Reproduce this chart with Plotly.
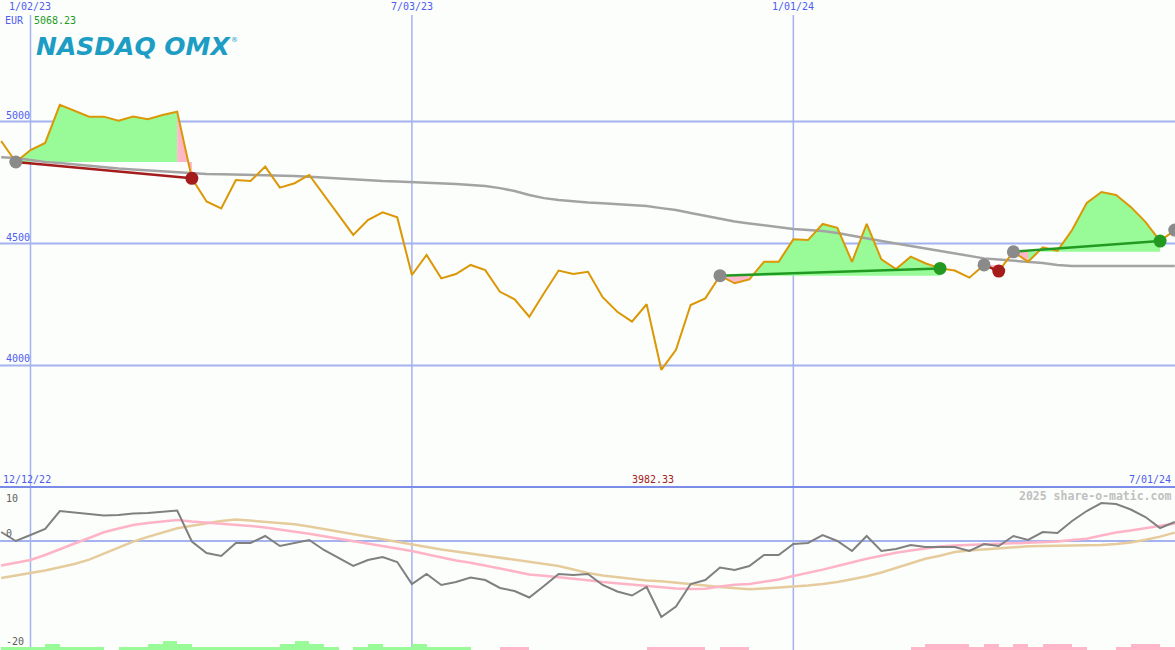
import plotly.graph_objects as go
import pandas as pd

# ---------------- data ----------------
first_week = "2022-12-19"
dates = pd.date_range(first_week, periods=81, freq="7D")

price = [4920, 4834, 4883, 4912, 5068.23, 5043, 5020, 5020, 5003, 5020,
         5009, 5027, 5040, 4767, 4672, 4644, 4760, 4756, 4815, 4729,
         4747, 4781, 4699, 4617, 4535, 4596, 4628, 4607, 4371, 4453,
         4357, 4375, 4412, 4391, 4302, 4271, 4200, 4296, 4389, 4375,
         4384, 4280, 4220, 4180, 4251, 3982.33, 4064, 4248, 4275, 4368,
         4337, 4353, 4425, 4425, 4517, 4514, 4580, 4564, 4425, 4580,
         4435, 4395, 4446, 4419, 4398, 4389, 4360, 4412, 4387, 4466,
         4425, 4484, 4470, 4555, 4666, 4711, 4699, 4650, 4589, 4510,
         4555]

ma_long = [4854, 4850, 4842, 4834, 4830, 4824, 4818, 4813, 4807, 4803,
           4799, 4795, 4791, 4788, 4785, 4784, 4783, 4781, 4779, 4778,
           4777, 4774, 4770, 4766, 4762, 4760, 4756, 4754, 4752, 4750,
           4748, 4744, 4740, 4736, 4727, 4715, 4699, 4686, 4678, 4672,
           4668, 4665, 4662, 4658, 4654, 4645, 4637, 4625, 4613, 4600,
           4590, 4582, 4574, 4568, 4559, 4555, 4551, 4543, 4531, 4520,
           4510, 4500, 4490, 4477, 4467, 4457, 4447, 4439, 4434, 4430,
           4425, 4420, 4412, 4408, 4408, 4408, 4408, 4408, 4408, 4408,
           4408]

osc = [1.8, 0.0, 1.2, 2.4, 6.0, 5.7, 5.3, 5.1, 5.2, 5.5,
       5.6, 5.8, 6.1, -0.1, -2.4, -3.0, -0.4, -0.4, 1.0, -1.0,
       -0.4, 0.2, -1.8, -3.4, -5.0, -3.8, -3.2, -4.2, -8.6, -6.6,
       -8.8, -8.2, -7.3, -7.8, -9.4, -10.0, -11.3, -9.0, -6.6, -6.8,
       -6.6, -8.8, -10.1, -10.9, -9.2, -15.2, -13.1, -8.6, -7.8, -5.3,
       -5.8, -5.0, -2.8, -2.8, -0.6, -0.4, 1.2, 0.0, -2.0, 1.0,
       -2.0, -1.6, -0.8, -1.2, -1.2, -1.2, -2.0, -0.6, -1.0, 1.0,
       0.2, 1.8, 1.6, 4.0, 6.0, 7.6, 7.4, 6.3, 4.8, 2.6,
       3.8]

osc_fast = [-4.9, -4.4, -3.8, -2.8, -1.6, -0.5, 0.6, 1.74, 2.5, 3.2,
            3.6, 3.9, 4.2, 3.9, 3.68, 3.52, 3.34, 3.02, 2.7, 2.3,
            1.9, 1.44, 0.94, 0.46, -0.04, -0.52, -1.0, -1.5, -2.0, -2.64,
            -3.28, -3.88, -4.36, -4.86, -5.48, -6.1, -6.7, -6.96, -7.22, -7.52,
            -7.84, -8.2, -8.48, -8.76, -9.06, -9.34, -9.52, -9.6, -9.56, -9.12,
            -8.76, -8.62, -8.16, -7.68, -7.0, -6.4, -5.72, -5.0, -4.24, -3.56,
            -2.96, -2.34, -1.9, -1.5, -1.12, -0.9, -0.8, -0.7, -0.62, -0.5,
            -0.38, -0.28, -0.12, 0.2, 0.46, 1.1, 1.7, 2.1, 2.54, 3.0,
            3.48]

osc_slow = [-7.4, -6.94, -6.46, -5.88, -5.24, -4.6, -3.72, -2.5, -1.3, -0.12,
            0.82, 1.74, 2.56, 3.04, 3.52, 4.0, 4.32, 4.08, 3.84, 3.6,
            3.34, 2.88, 2.36, 1.84, 1.32, 0.8, 0.28, -0.26, -0.78, -1.24,
            -1.68, -2.1, -2.52, -2.96, -3.4, -3.82, -4.18, -4.54, -5.0, -5.7,
            -6.4, -6.88, -7.24, -7.6, -7.88, -8.06, -8.3, -8.6, -8.9, -9.2,
            -9.48, -9.66, -9.48, -9.32, -9.16, -8.9, -8.6, -8.2, -7.64, -7.06,
            -6.3, -5.36, -4.44, -3.56, -2.94, -2.2, -1.88, -1.64, -1.44, -1.24,
            -1.06, -1.0, -0.96, -0.92, -0.86, -0.8, -0.6, -0.3, 0.24, 0.88,
            1.68]

# signed bar heights (positive = green, negative = pink)
signal_bars = [0.6, 0.6, 0.6, 1.2, 0.6, 0.6, 0.6, 0.0, 0.6, 0.6,
               1.2, 1.8, 1.2, 0.6, 0.6, 0.6, 0.6, 0.6, 0.6, 1.2,
               1.8, 1.2, 0.6, 0.0, 0.6, 1.2, 0.6, 0.6, 1.2, 0.6,
               0.6, 0.6, 0.0, 0.0, -0.6, -0.6, 0.0, 0.0, 0.0, 0.0,
               0.0, 0.0, 0.0, 0.0, -0.6, -0.6, -0.6, -0.6, 0.0, -0.6,
               -0.6, 0.0, 0.0, 0.0, 0.0, 0.0, 0.0, 0.0, 0.0, 0.0,
               0.0, 0.0, -0.6, -1.2, -1.2, -1.2, -0.6, -1.2, -0.6, -1.2,
               -0.6, -1.2, -1.2, -0.6, 0.0, 0.0, -0.6, -1.2, -1.2, -0.6,
               -0.6]

trade_entry = [1, 49, 67, 69, 80]
trade_exit = [13, 64, 68, 79, None]

grid_dates = ["2023-01-02", "2023-07-03", "2024-01-01"]
grid_labels = ["1/02/23", "7/03/23", "1/01/24"]
price_grid = [4000, 4500, 5000]
osc_labels = [10, 0, -20]
range_start_label = "12/12/22"
range_end_label = "7/01/24"
currency = "EUR"

# ---------------- layout constants ----------------
W, H = 1175, 650
split = 1 - 487 / H
MAIN_RANGE = [3502, 5498]
OSC_RANGE = [-21.8, 10.8]
X_RANGE = ["2022-12-18 10:48", "2024-07-01 02:40"]
BG = "#fbfefb"
GRID = "#a4b2f0"
BLUE_TXT = "#4f5cf0"
MONO = "DejaVu Sans Mono"

fig = go.Figure()

# ----- trade fills -----
gx, gy, rx, ry = [], [], [], []
for e, x_ in zip(trade_entry, trade_exit):
    if x_ is None:
        continue
    base = price[e]
    for i in range(e, x_):
        px = [dates[i], dates[i + 1], dates[i + 1], dates[i], dates[i], None]
        py = [price[i], price[i + 1], base, base, price[i], None]
        if price[i + 1] >= base:
            gx += px; gy += py
        else:
            rx += px; ry += py
fig.add_trace(go.Scatter(x=gx, y=gy, fill="toself", fillcolor="#98fb98",
                         line=dict(width=0), mode="lines", hoverinfo="skip"))
fig.add_trace(go.Scatter(x=rx, y=ry, fill="toself", fillcolor="#ffb6c8",
                         line=dict(width=0), mode="lines", hoverinfo="skip"))

# ----- long moving average -----
fig.add_trace(go.Scatter(x=dates, y=ma_long, mode="lines",
                         line=dict(color="#a3a3a3", width=2.5)))
# ----- price -----
fig.add_trace(go.Scatter(x=dates, y=price, mode="lines",
                         line=dict(color="#db9706", width=2)))

# ----- trade lines & markers -----
for e, x_ in zip(trade_entry, trade_exit):
    if x_ is None:
        continue
    col = "#229a22" if price[x_] > price[e] else "#a41c1c"
    fig.add_trace(go.Scatter(x=[dates[e], dates[x_]], y=[price[e], price[x_]],
                             mode="lines", line=dict(color=col, width=2.5)))
    fig.add_trace(go.Scatter(x=[dates[x_]], y=[price[x_]], mode="markers",
                             marker=dict(color=col, size=13, line=dict(width=0))))
fig.add_trace(go.Scatter(x=[dates[e] for e in trade_entry],
                         y=[price[e] for e in trade_entry], mode="markers",
                         marker=dict(color="#8a8a8a", size=13, line=dict(width=0))))

# ----- lower panel -----
bar_x = [d + pd.Timedelta(days=3.5) for d in dates]
fig.add_trace(go.Bar(x=bar_x, y=[abs(v) for v in signal_bars], base=OSC_RANGE[0],
                     width=7 * 86400000,
                     marker=dict(color=["#98fb98" if v > 0 else "#ffb6c8" for v in signal_bars],
                                 line=dict(width=0)),
                     xaxis="x2", yaxis="y2"))
fig.add_trace(go.Scatter(x=dates, y=osc_slow, mode="lines",
                         line=dict(color="#e6cc9c", width=2.5), xaxis="x2", yaxis="y2"))
fig.add_trace(go.Scatter(x=dates, y=osc_fast, mode="lines",
                         line=dict(color="#ffb3c6", width=2.5), xaxis="x2", yaxis="y2"))
fig.add_trace(go.Scatter(x=dates, y=osc, mode="lines",
                         line=dict(color="#808080", width=2), xaxis="x2", yaxis="y2"))

# ----- shapes -----
shapes = []
for v in price_grid:
    shapes.append(dict(type="line", xref="paper", x0=0, x1=1, yref="y", y0=v, y1=v,
                       line=dict(color=GRID, width=2), layer="below"))
shapes.append(dict(type="line", xref="paper", x0=0, x1=1, yref="y2", y0=0, y1=0,
                   line=dict(color=GRID, width=2), layer="below"))
for d in grid_dates:
    shapes.append(dict(type="line", xref="x", x0=d, x1=d, yref="paper", y0=0, y1=1 - 15 / H,
                       line=dict(color=GRID, width=1.5), layer="below"))
shapes.append(dict(type="line", xref="paper", x0=0, x1=1, yref="paper", y0=split, y1=split,
                   line=dict(color="#7b8ce8", width=2), layer="above"))

# ----- annotations -----
ann = []
for d, lab in zip(grid_dates, grid_labels):
    ann.append(dict(text=lab, x=d, xref="x", y=1 - 7 / H, yref="paper", showarrow=False,
                    xanchor="center", yanchor="middle",
                    font=dict(family=MONO, size=10, color=BLUE_TXT)))
for v in price_grid:
    ann.append(dict(text=str(v), x=4 / W, xref="paper", y=v, yref="y", showarrow=False,
                    xanchor="left", yanchor="bottom", yshift=-1,
                    font=dict(family=MONO, size=10, color=BLUE_TXT)))
for v, ya in zip(osc_labels, ["top", "bottom", "middle"]):
    ann.append(dict(text=str(v), x=4 / W, xref="paper", y=v, yref="y2", showarrow=False,
                    xanchor="left", yanchor=ya,
                    font=dict(family=MONO, size=10, color="#606060")))
ann.append(dict(text=currency, x=3 / W, xref="paper", y=1 - 20 / H, yref="paper",
                showarrow=False, xanchor="left", yanchor="middle",
                font=dict(family=MONO, size=10, color=BLUE_TXT)))
ann.append(dict(text=f"{max(price):.2f}", x=32 / W, xref="paper", y=1 - 20 / H, yref="paper",
                showarrow=False, xanchor="left", yanchor="middle",
                font=dict(family=MONO, size=10, color="#1f9a1f")))
imin = price.index(min(price))
ann.append(dict(text=f"{min(price):.2f}", x=dates[imin], xref="x", xshift=-8,
                y=1 - 479 / H, yref="paper", showarrow=False, xanchor="center", yanchor="middle",
                font=dict(family=MONO, size=10, color="#a42020")))
ann.append(dict(text=range_start_label, x=1 / W, xref="paper", y=1 - 479 / H, yref="paper",
                showarrow=False, xanchor="left", yanchor="middle",
                font=dict(family=MONO, size=10, color=BLUE_TXT)))
ann.append(dict(text=range_end_label, x=1 - 2 / W, xref="paper", y=1 - 479 / H, yref="paper",
                showarrow=False, xanchor="right", yanchor="middle",
                font=dict(family=MONO, size=10, color=BLUE_TXT)))
ann.append(dict(text="2025 share-o-matic.com", x=1 - 2 / W, xref="paper", y=1 - 496 / H,
                yref="paper", showarrow=False, xanchor="right", yanchor="middle",
                font=dict(family=MONO, size=11.5, color="#c0c0c0", weight="bold")))
ann.append(dict(text="NASDAQ OMX", x=34 / W, xref="paper", y=1 - 46 / H, yref="paper",
                showarrow=False, xanchor="left", yanchor="middle",
                font=dict(family="DejaVu Sans", size=25, color="#1d9dc4",
                          weight="bold", style="italic")))
ann.append(dict(text="®", x=229 / W, xref="paper", y=1 - 40 / H, yref="paper",
                showarrow=False, xanchor="left", yanchor="middle",
                font=dict(family="DejaVu Sans", size=7, color="#1d9dc4")))

fig.update_layout(
    width=W, height=H, margin=dict(l=0, r=0, t=0, b=0),
    paper_bgcolor=BG, plot_bgcolor=BG, showlegend=False,
    bargap=0, hovermode=False,
    xaxis=dict(range=X_RANGE, visible=False, anchor="y"),
    xaxis2=dict(range=X_RANGE, visible=False, anchor="y2", matches="x"),
    yaxis=dict(domain=[split, 1], range=MAIN_RANGE, visible=False),
    yaxis2=dict(domain=[0, split], range=OSC_RANGE, visible=False),
    shapes=shapes, annotations=ann,
)

fig.write_html("out.html", config={"displayModeBar": False},
               post_script="document.body.style.margin='0';document.body.style.overflow='hidden';")
